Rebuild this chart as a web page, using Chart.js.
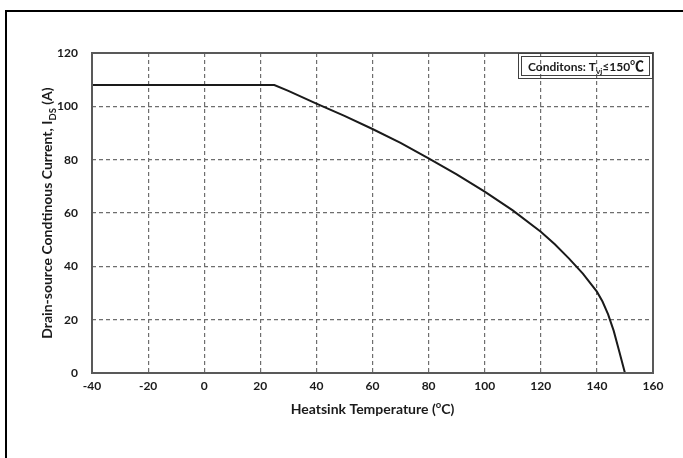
<!DOCTYPE html>
<html>
<head>
<meta charset="utf-8">
<script src="https://cdn.jsdelivr.net/npm/chart.js@4.4.1/dist/chart.umd.min.js"></script>
<style>
  html, body { margin: 0; padding: 0; background: #fff; }
  #wrap { width: 683px; height: 458px; }
</style>
</head>
<body>
<div id="wrap"><canvas id="grafico" width="683" height="458"></canvas></div>
<script>
// derating curve: heatsink temperature (C) vs drain current (A)
const temperaturas = [-40, 25, 30, 40, 50, 60, 70, 80, 90, 100, 110, 120, 125, 130, 135, 140, 142, 144, 146, 148, 150];
const correntes = [108, 108, 105.8, 101, 96.4, 91.5, 86.3, 80.5, 74.5, 68, 61, 53, 48.3, 43, 37.3, 30.5, 26.8, 22, 15.8, 8, 0];

const ticksX = [-40, -20, 0, 20, 40, 60, 80, 100, 120, 140, 160];
const ticksY = [0, 20, 40, 60, 80, 100, 120];

const fonte = 'Lato, "Open Sans", sans-serif';

// texto com subscrito/sobrescrito desenhado em partes
function textoPartes(ctx, partes, x, y, tam) {
  let cx = x;
  for (const p of partes) {
    const t = p.sub || p.sup ? tam * 0.68 : tam;
    ctx.font = 'bold ' + t + 'px ' + fonte;
    const dy = p.sub ? tam * 0.28 : (p.sup ? -tam * 0.4 : 0);
    ctx.fillText(p.t, cx, y + dy);
    cx += ctx.measureText(p.t).width;
  }
  return cx - x;
}
function larguraPartes(ctx, partes, tam) {
  let w = 0;
  for (const p of partes) {
    const t = p.sub || p.sup ? tam * 0.68 : tam;
    ctx.font = 'bold ' + t + 'px ' + fonte;
    w += ctx.measureText(p.t).width;
  }
  return w;
}

const moldura = {
  id: 'moldura',
  afterDraw(chart) {
    const ctx = chart.ctx;
    const a = chart.chartArea;
    ctx.save();

    // borda da área do gráfico
    ctx.strokeStyle = '#595959';
    ctx.lineWidth = 2;
    ctx.strokeRect(a.left, a.top, a.right - a.left, a.bottom - a.top);

    // moldura externa
    ctx.strokeStyle = '#000';
    ctx.lineWidth = 2;
    ctx.strokeRect(6, 11, 760, 520);

    // títulos dos eixos
    ctx.fillStyle = '#1a1a1a';
    ctx.textBaseline = 'alphabetic';
    const tituloX = [{ t: 'Heatsink Temperature (' }, { t: 'o', sup: true }, { t: 'C)' }];
    const wx = larguraPartes(ctx, tituloX, 14);
    textoPartes(ctx, tituloX, (a.left + a.right) / 2 - wx / 2, 414, 14);

    const tituloY = [{ t: 'Drain-source Condtinous Current, I' }, { t: 'DS', sub: true }, { t: ' (A)' }];
    const wy = larguraPartes(ctx, tituloY, 14);
    ctx.save();
    ctx.translate(52, (a.top + a.bottom) / 2);
    ctx.rotate(-Math.PI / 2);
    textoPartes(ctx, tituloY, -wy / 2, 0, 14);
    ctx.restore();

    // caixa de condições
    const bx = 518, by = 53, bw = a.right - 518, bh = 26;
    ctx.strokeStyle = '#404040';
    ctx.lineWidth = 1;
    ctx.strokeRect(bx + 0.5, by + 0.5, bw - 1, bh - 1);
    ctx.strokeRect(bx + 3.5, by + 3.5, bw - 7, bh - 7);
    const cond = [{ t: 'Conditons: T' }, { t: 'vj', sub: true }, { t: '≤150' }];
    const w = textoPartes(ctx, cond, bx + 10, by + 18, 12);
    ctx.font = 'bold 14px "Noto Sans CJK SC", sans-serif';
    ctx.fillText('℃', bx + 10 + w, by + 18);

    ctx.restore();
  }
};

new Chart(document.getElementById('grafico'), {
  type: 'line',
  data: {
    datasets: [{
      data: temperaturas.map((t, i) => ({ x: t, y: correntes[i] })),
      borderColor: '#1a1a1a',
      borderWidth: 2,
      pointRadius: 0,
      tension: 0,
      fill: false
    }]
  },
  options: {
    responsive: false,
    animation: false,
    layout: { padding: { left: 0, right: 30, top: 53, bottom: 0 } },
    plugins: { legend: { display: false }, tooltip: { enabled: false } },
    scales: {
      x: {
        type: 'linear',
        min: -40,
        max: 160,
        afterBuildTicks: s => { s.ticks = ticksX.map(v => ({ value: v })); },
        afterFit: s => { s.height = 85; },
        ticks: { color: '#1a1a1a', font: { family: fonte, size: 12, weight: 'bold' }, padding: 6, maxRotation: 0 },
        grid: { color: '#6e6e6e', lineWidth: 1.2, drawTicks: false },
        border: { display: false, dash: [4, 3] }
      },
      y: {
        min: 0,
        max: 120,
        afterBuildTicks: s => { s.ticks = ticksY.map(v => ({ value: v })); },
        afterFit: s => { s.width = 92; },
        ticks: { color: '#1a1a1a', font: { family: fonte, size: 12, weight: 'bold' }, padding: 14 },
        grid: { color: '#6e6e6e', lineWidth: 1.2, drawTicks: false },
        border: { display: false, dash: [4, 3] }
      }
    }
  },
  plugins: [moldura]
});
</script>
</body>
</html>
